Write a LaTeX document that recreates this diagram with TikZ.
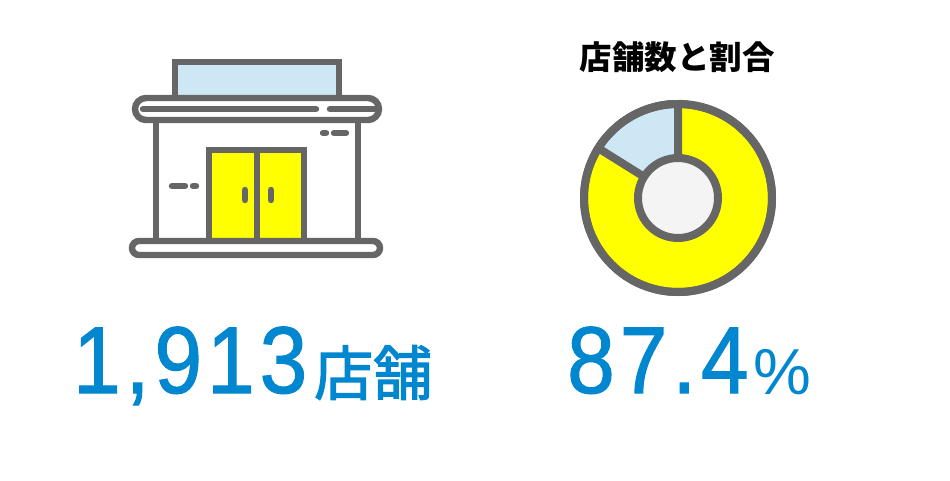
\documentclass[tikz,border=0pt]{standalone}
\usepackage{fontspec}
\setmainfont{Liberation Sans}
\newfontfamily\cjk{Noto Sans CJK JP}
\newfontfamily\cjkmid[FakeBold=2.2]{Noto Sans CJK JP}
\newfontfamily\digits[FakeBold=1.2,FakeStretch=0.9,LetterSpace=5.3]{Liberation Sans}
\definecolor{ink}{HTML}{666666}
\definecolor{sky}{HTML}{CDE7F5}
\definecolor{hub}{HTML}{F4F4F4}
\definecolor{lemon}{HTML}{FFFF00}
\definecolor{bluetxt}{HTML}{0087D0}
\tikzset{
 x=1pt,y=-1pt,
 outline/.style={draw=ink,line width=6.4pt,line join=miter},
 rule/.style={draw=ink,line width=6.4pt,line cap=round},
 wedge/.style={draw=ink,line width=8pt,line join=miter},
 bignum/.style={text=bluetxt,inner sep=0pt,anchor=base west},
}
\begin{document}
\begin{tikzpicture}
\useasboundingbox (0,0) rectangle (950,480);
% sign
\filldraw[outline,fill=sky] (175,62) rectangle (339,98);
% walls
\draw[outline] (156,120) -- (156,241);
\draw[outline] (358,120) -- (358,241);
% awning
\filldraw[outline,fill=white,rounded corners=11pt] (135,98) rectangle (379,120);
\draw[rule] (143,109) -- (316,109);
\draw[rule] (330,109) -- (376,109);
% door
\filldraw[outline,fill=lemon] (209,150) rectangle (304,241);
\draw[outline] (257,150) -- (257,241);
\draw[rule] (245,190) -- (245,200);
\draw[rule] (271,190) -- (271,200);
% dashes
\draw[rule] (323,133) -- (326,133);
\draw[rule] (334,133) -- (346,133);
\draw[rule] (172,186) -- (185,186);
\draw[rule] (193,186) -- (196,186);
% base
\filldraw[outline,fill=white,rounded corners=7pt] (132,241) rectangle (380,255);
% donut
\filldraw[wedge,fill=lemon] (678,198) circle[radius=94];
\filldraw[wedge,fill=sky] (678,198) -- ++(0,-94) arc[start angle=-90,end angle=-148,radius=94] -- cycle;
\filldraw[wedge,fill=hub] (678,198) circle[radius=40];
\draw[draw=ink,line width=8pt] (678,198) circle[radius=94];
% text
\node (title) at (677,57) [inner sep=0pt] {\cjk\fontsize{32.5}{32.5}\selectfont\bfseries 店舗数と割合};
\node (count) at (73,393) [bignum] {\digits\fontsize{95}{95}\selectfont 1,913};
\node (unit) at (314,395) [bignum] {\cjkmid\fontsize{59}{59}\selectfont 店舗};
\node (pct) at (567,393) [bignum] {\digits\fontsize{95}{95}\selectfont 87.4};
\node (sign) at (753,394) [bignum] {\fontsize{65}{65}\selectfont \%};
\end{tikzpicture}
\end{document}
